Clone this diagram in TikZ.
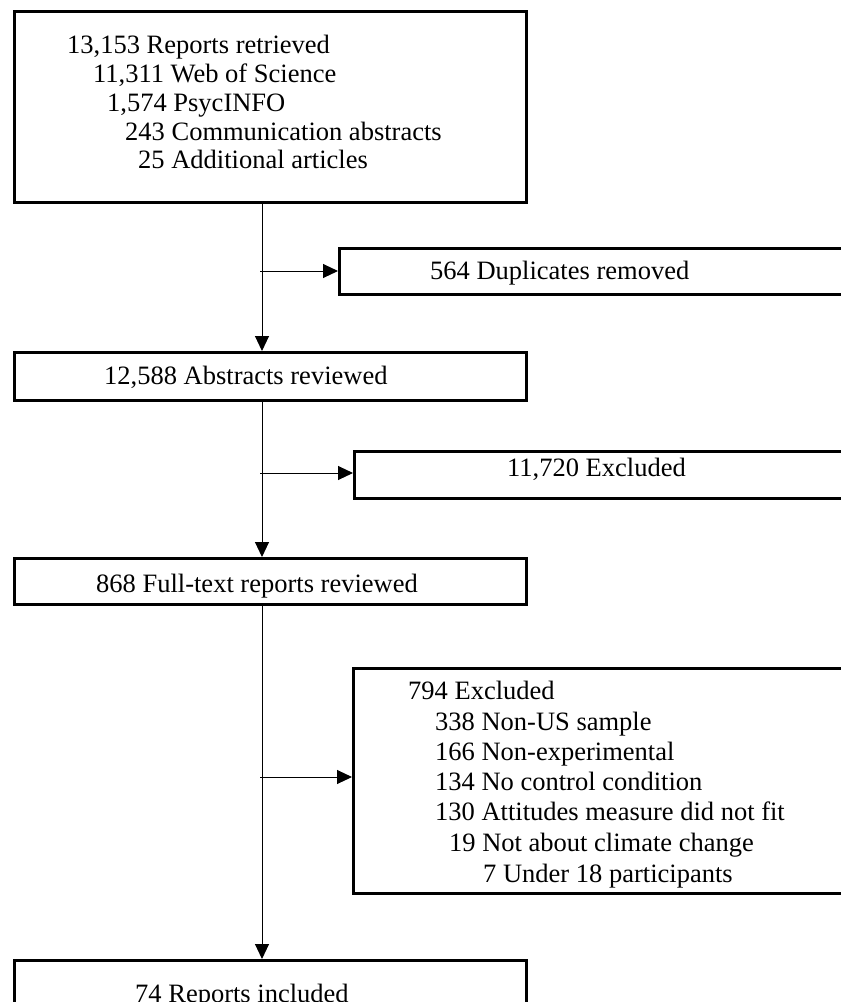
\documentclass[tikz,border=0pt]{standalone}
\usepackage{fontspec}
\setmainfont{Liberation Serif}
\usetikzlibrary{arrows.meta}
\tikzset{
  box/.style={draw, line width=2.5pt, rectangle, inner sep=0pt, anchor=north west},
  lbl/.style={anchor=base west, inner sep=0pt, font=\fontsize{26.5}{29}\selectfont},
  arr/.style={line width=1pt, -{Triangle[length=15pt,width=14pt]}},
}
\begin{document}
\begin{tikzpicture}[x=1pt,y=-1pt]
\useasboundingbox (0,0) rectangle (841,1002);
\clip (0,0) rectangle (841,1002);
% boxes
\node[box, minimum width=512pt, minimum height=191pt] (top) at (13,10) {};
\node[box, minimum width=520pt, minimum height=46pt] (dup) at (338,247) {};
\node[box, minimum width=512pt, minimum height=48pt] (abs) at (13,351) {};
\node[box, minimum width=510pt, minimum height=47pt] (exa) at (353,450) {};
\node[box, minimum width=512pt, minimum height=46pt] (full) at (13,557) {};
\node[box, minimum width=510pt, minimum height=225pt] (exf) at (352,667) {};
\node[box, minimum width=512pt, minimum height=80pt] (inc) at (13,959) {};
% texts
\node[lbl] (t1) at (67,53) {13,153 Reports retrieved};
\node[lbl] (t2) at (93,82) {11,311 Web of Science};
\node[lbl] (t3) at (107,111) {1,574 PsycINFO};
\node[lbl] (t4) at (125,140) {243 Communication abstracts};
\node[lbl] (t5) at (138,168) {25 Additional articles};
\node[lbl] (td) at (430,279) {564 Duplicates removed};
\node[lbl] (ta) at (104,384) {12,588 Abstracts reviewed};
\node[lbl] (tea) at (507,476) {11,720 Excluded};
\node[lbl] (tf) at (96,592) {868 Full-text reports reviewed};
\node[lbl] (e1) at (408,699) {794 Excluded};
\node[lbl] (e2) at (435,730) {338 Non-US sample};
\node[lbl] (e3) at (435,760) {166 Non-experimental};
\node[lbl] (e4) at (435,790) {134 No control condition};
\node[lbl] (e5) at (435,820) {130 Attitudes measure did not fit};
\node[lbl] (e6) at (449,851) {19 Not about climate change};
\node[lbl] (e7) at (483,882) {7 Under 18 participants};
\node[lbl] (ti) at (135,1002) {74 Reports included};
% connectors
\coordinate (sp) at (262,0);
\coordinate (b1) at (260,271);
\coordinate (b2) at (260,473);
\coordinate (b3) at (260,777);
\draw[arr] (top.south -| sp) -- (abs.north -| sp);
\draw[arr] (abs.south -| sp) -- (full.north -| sp);
\draw[arr] (full.south -| sp) -- (inc.north -| sp);
\draw[arr] (b1) -- (b1 -| dup.west);
\draw[arr] (b2) -- (b2 -| exa.west);
\draw[arr] (b3) -- (b3 -| exf.west);
\end{tikzpicture}
\end{document}
